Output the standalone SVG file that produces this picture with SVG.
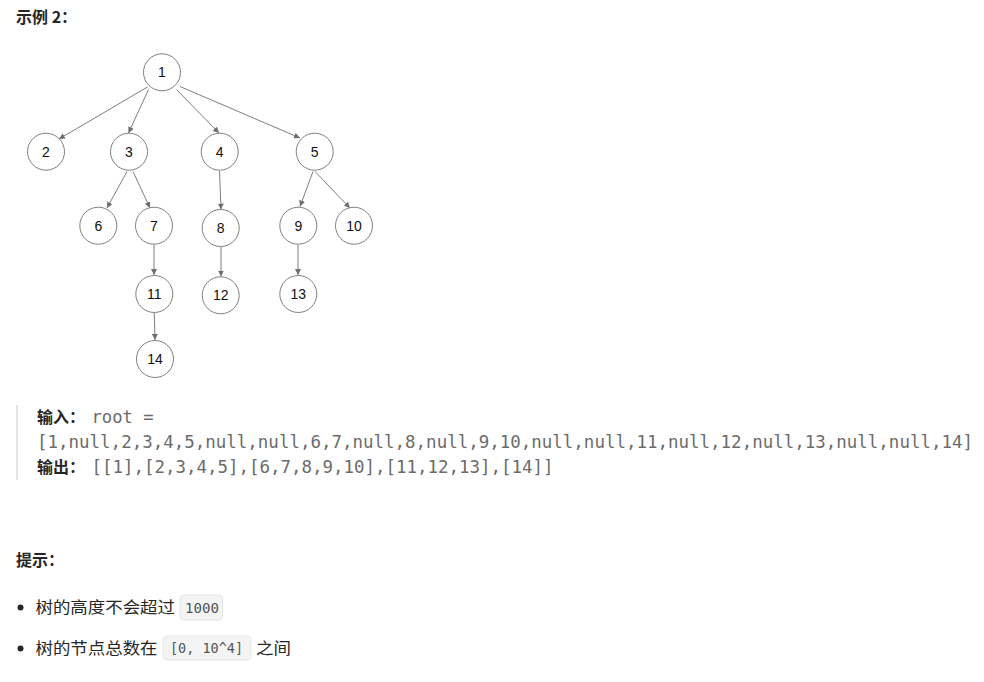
<svg xmlns="http://www.w3.org/2000/svg" width="984" height="682" viewBox="0 0 984 682">
<style>
.node circle{fill:#fff;stroke:#808080;stroke-width:1}
.node text{font-family:"Liberation Sans",Arial,sans-serif;font-size:14px;fill:#111;text-anchor:middle;dominant-baseline:central}
.edges line{stroke:#6e6e6e;stroke-width:0.9;marker-end:url(#arr)}
.h{font-family:"Noto Sans CJK SC","Noto Sans",sans-serif;font-weight:bold;font-size:16px;fill:#262626}
.b{font-family:"Noto Sans CJK SC","Noto Sans",sans-serif;font-size:16px;fill:#262626}
.m{font-family:"DejaVu Sans Mono","Liberation Mono",monospace;font-size:17px;fill:#6b6b6b}
.c{font-family:"DejaVu Sans Mono","Liberation Mono",monospace;font-size:13.5px;fill:#555}
.code{fill:#f4f4f4;stroke:#e6e6e6;stroke-width:1}
</style>
<defs>
<marker id="arr" markerUnits="userSpaceOnUse" markerWidth="6" markerHeight="6" refX="6" refY="3" orient="auto">
<path d="M0,0 L6,3 L0,6 z" fill="#6e6e6e"/>
</marker>
</defs>
<rect width="984" height="682" fill="#fff"/>
<text class="h" x="16" y="23">示例 2：</text>

<g id="connectors" class="edges">
<line x1="147.5" y1="87" x2="59" y2="139"/>
<line x1="148.5" y1="89.5" x2="128.5" y2="133"/>
<line x1="176.5" y1="89.5" x2="219" y2="133"/>
<line x1="180" y1="86.5" x2="300" y2="138"/>
<line x1="127" y1="171.5" x2="107" y2="208"/>
<line x1="133" y1="171.5" x2="150" y2="208"/>
<line x1="219.5" y1="171" x2="221" y2="209.5"/>
<line x1="313" y1="171.5" x2="300" y2="206.5"/>
<line x1="315" y1="171.5" x2="350" y2="208"/>
<line x1="154" y1="245" x2="154" y2="275"/>
<line x1="221" y1="247" x2="221" y2="276.5"/>
<line x1="298" y1="245" x2="298" y2="275"/>
<line x1="154.3" y1="313" x2="155" y2="340"/>
</g>

<g id="n1" class="node"><circle cx="162" cy="72.3" r="18.5"/><text x="162" y="72.3">1</text></g>
<g id="n2" class="node"><circle cx="46" cy="151.7" r="18.5"/><text x="46" y="151.7">2</text></g>
<g id="n3" class="node"><circle cx="129" cy="151.7" r="18.5"/><text x="129" y="151.7">3</text></g>
<g id="n4" class="node"><circle cx="219.7" cy="151.7" r="18.5"/><text x="219.7" y="151.7">4</text></g>
<g id="n5" class="node"><circle cx="314.7" cy="151.7" r="18.5"/><text x="314.7" y="151.7">5</text></g>
<g id="n6" class="node"><circle cx="98.3" cy="225.7" r="18.5"/><text x="98.3" y="225.7">6</text></g>
<g id="n7" class="node"><circle cx="154" cy="225.7" r="18.5"/><text x="154" y="225.7">7</text></g>
<g id="n8" class="node"><circle cx="220.7" cy="228" r="18.5"/><text x="220.7" y="228">8</text></g>
<g id="n9" class="node"><circle cx="298.3" cy="225.7" r="18.5"/><text x="298.3" y="225.7">9</text></g>
<g id="n10" class="node"><circle cx="354" cy="225.7" r="18.5"/><text x="354" y="225.7">10</text></g>
<g id="n11" class="node"><circle cx="154.3" cy="294" r="18.5"/><text x="154.3" y="294">11</text></g>
<g id="n12" class="node"><circle cx="220.7" cy="295.3" r="18.5"/><text x="220.7" y="295.3">12</text></g>
<g id="n13" class="node"><circle cx="298.3" cy="294" r="18.5"/><text x="298.3" y="294">13</text></g>
<g id="n14" class="node"><circle cx="155" cy="359" r="18.5"/><text x="155" y="359">14</text></g>

<rect x="16" y="405" width="2" height="75" fill="#e3e3e3"/>
<text class="h" x="37" y="423">输入：</text>
<text class="m" x="91.5" y="423" textLength="62" lengthAdjust="spacingAndGlyphs">root =</text>
<text class="m" x="37" y="448" textLength="936" lengthAdjust="spacingAndGlyphs">[1,null,2,3,4,5,null,null,6,7,null,8,null,9,10,null,null,11,null,12,null,13,null,null,14]</text>
<text class="h" x="37" y="473">输出：</text>
<text class="m" x="91.5" y="473" textLength="462" lengthAdjust="spacingAndGlyphs">[[1],[2,3,4,5],[6,7,8,9,10],[11,12,13],[14]]</text>

<text class="h" x="16" y="566">提示：</text>

<circle cx="20.5" cy="607.5" r="3" fill="#262626"/>
<text class="b" x="35.5" y="613" textLength="139.5" lengthAdjust="spacingAndGlyphs">树的高度不会超过</text>
<rect class="code" x="180" y="595" width="42.5" height="25" rx="4"/>
<text class="c" x="185" y="612.5" textLength="34" lengthAdjust="spacingAndGlyphs">1000</text>

<circle cx="20.5" cy="648.5" r="3" fill="#262626"/>
<text class="b" x="35.5" y="654" textLength="122" lengthAdjust="spacingAndGlyphs">树的节点总数在</text>
<rect class="code" x="163" y="636" width="88" height="24" rx="4"/>
<text class="c" x="170" y="653" textLength="73" lengthAdjust="spacingAndGlyphs">[0, 10^4]</text>
<text class="b" x="256" y="654" textLength="35" lengthAdjust="spacingAndGlyphs">之间</text>
</svg>
